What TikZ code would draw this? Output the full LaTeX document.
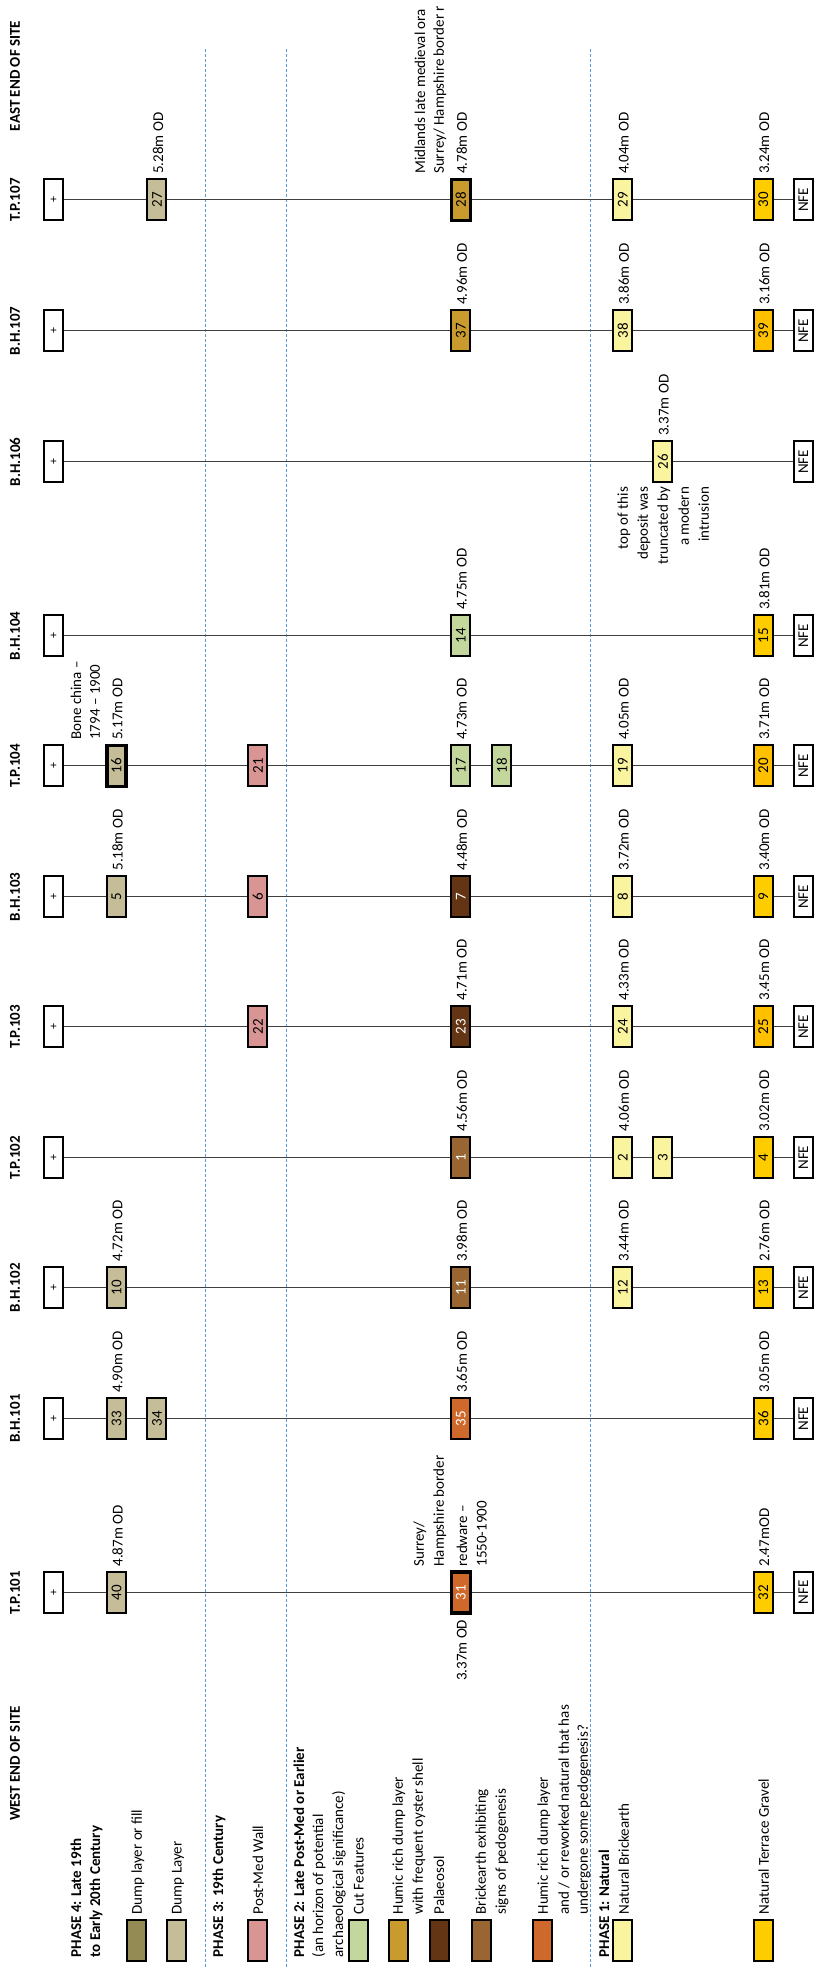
\documentclass[tikz,border=0pt]{standalone}
\usepackage{fontspec}
\setmainfont{Carlito}
\usetikzlibrary{backgrounds}
\definecolor{cdumpA}{HTML}{948A54}
\definecolor{cdumpB}{HTML}{C4BD97}
\definecolor{cwall}{HTML}{D99594}
\definecolor{ccut}{HTML}{C3D69B}
\definecolor{coyster}{HTML}{C99A2E}
\definecolor{cpalaeo}{HTML}{633515}
\definecolor{cpedo}{HTML}{996633}
\definecolor{creworked}{HTML}{CF692B}
\definecolor{cbrick}{HTML}{FBF49E}
\definecolor{cgravel}{HTML}{FFCC00}
\definecolor{cgravelB}{HTML}{FFC000}
\definecolor{cdash}{HTML}{5B9BD5}
\definecolor{cline}{HTML}{404040}
\newcommand\fsz{\fontsize{15}{18}\selectfont}
\tikzset{
  layer/.style={draw=black, line width=2pt, minimum width=19pt, minimum height=41pt, inner sep=0pt, font=\fsz},
  thicklayer/.style={line width=3.5pt},
  endbox/.style={layer, fill=white},
  lbl/.style={rotate=90, anchor=west, inner sep=0pt, font=\fsz},
  lblend/.style={rotate=90, anchor=east, inner sep=0pt, font=\fsz},
  boldlbl/.style={rotate=90, anchor=west, inner sep=0pt, font=\fsz\bfseries},
  colname/.style={rotate=90, inner sep=0pt, font=\fsz\bfseries},
  hole/.style={draw=cline, line width=1pt},
  phaseline/.style={draw=cdash, line width=1pt, dash pattern=on 3pt off 2pt},
}
\newcommand\Bx[5][]{\node[layer,fill=#4,#1] (#2) at (#3) {\rotatebox{90}{#5}};}
\newcommand\Od[2]{\node[lbl] at (#1) {#2};}
\newcommand\Col[3]{%
  \node[colname] (name#1) at (15,#2) {#3};
  \node[endbox] (plus#1) at (54,#2) {\rotatebox{90}{\fontsize{12}{12}\selectfont +}};
  \node[endbox] (nfe#1) at (803.5,#2) {\rotatebox{90}{NFE}};
  \begin{pgfonlayer}{background}\draw[hole] (plus#1) -- (nfe#1);\end{pgfonlayer}}
\begin{document}
\begin{tikzpicture}[x=1pt,y=-1pt]
\begin{pgfonlayer}{background}
\fill[white] (0,0) rectangle (814,1968);
\draw[phaseline] (206,49) -- (206,1968);
\draw[phaseline] (287,49) -- (287,1968);
\draw[phaseline] (591,49) -- (591,1968);
\end{pgfonlayer}
\useasboundingbox (0,0) rectangle (814,1968);

% titles
\node[colname] (east) at (15,76) {EAST END OF SITE};
\node[colname] (west) at (15,1764) {WEST END OF SITE};

% T.P.107
\Col{a}{200}{T.P.107}
\Bx{n27}{157,200}{cdumpB}{27}
\Bx[thicklayer]{n28}{461,200}{coyster}{28}
\Bx{n29}{623,200}{cbrick}{29}
\Bx{n30}{763.5,200}{cgravel}{30}
\Od{158,174}{5.28m OD}
\Od{420,174}{Midlands late medieval ora}
\Od{440,174}{Surrey/ Hampshire border r}
\Od{462,174}{4.78m OD}
\Od{624,174}{4.04m OD}
\Od{764.5,174}{3.24m OD}

% B.H.107
\Col{b}{331}{B.H.107}
\Bx{n37}{461,331}{coyster}{37}
\Bx{n38}{623,331}{cbrick}{38}
\Bx{n39}{763.5,331}{cgravelB}{39}
\Od{462,305}{4.96m OD}
\Od{624,305}{3.86m OD}
\Od{764.5,305}{3.16m OD}

% B.H.106
\Col{c}{462}{B.H.106}
\Bx{n26}{663,462}{cbrick}{26}
\Od{664,436}{3.37m OD}
\node[lblend] at (624,487) {top of this};
\node[lblend] at (644,487) {deposit was};
\node[lblend] at (664,487) {truncated by};
\node[lblend] at (684,487) {a modern};
\node[lblend] at (704,487) {intrusion};

% B.H.104
\Col{d}{636}{B.H.104}
\Bx{n14}{461,636}{ccut}{14}
\Bx{n15}{763.5,636}{cgravel}{15}
\Od{462,610}{4.75m OD}
\Od{764.5,610}{3.81m OD}

% T.P.104
\Col{e}{766}{T.P.104}
\Bx[thicklayer]{n16}{116.5,766}{cdumpB}{16}
\Bx{n21}{258,766}{cwall}{21}
\Bx{n17}{461,766}{ccut}{17}
\Bx{n18}{502,766}{ccut}{18}
\Bx{n19}{623,766}{cbrick}{19}
\Bx{n20}{763.5,766}{cgravelB}{20}
\Od{76,740}{Bone china –}
\Od{95,740}{1794 – 1900}
\Od{117.5,740}{5.17m OD}
\Od{462,740}{4.73m OD}
\Od{624,740}{4.05m OD}
\Od{764.5,740}{3.71m OD}

% B.H.103
\Col{f}{897}{B.H.103}
\Bx{n5}{116.5,897}{cdumpB}{5}
\Bx{n6}{258,897}{cwall}{6}
\Bx[text=white]{n7}{461,897}{cpalaeo}{7}
\Bx{n8}{623,897}{cbrick}{8}
\Bx{n9}{763.5,897}{cgravel}{9}
\Od{117.5,871}{5.18m OD}
\Od{462,871}{4.48m OD}
\Od{624,871}{3.72m OD}
\Od{764.5,871}{3.40m OD}

% T.P.103
\Col{g}{1027}{T.P.103}
\Bx{n22}{258,1027}{cwall}{22}
\Bx[text=white]{n23}{461,1027}{cpalaeo}{23}
\Bx{n24}{623,1027}{cbrick}{24}
\Bx{n25}{763.5,1027}{cgravelB}{25}
\Od{462,1001}{4.71m OD}
\Od{624,1001}{4.33m OD}
\Od{764.5,1001}{3.45m OD}

% T.P.102
\Col{h}{1158}{T.P.102}
\Bx[text=white]{n1}{461,1158}{cpedo}{1}
\Bx{n2}{623,1158}{cbrick}{2}
\Bx{n3}{663,1158}{cbrick}{3}
\Bx{n4}{763.5,1158}{cgravel}{4}
\Od{462,1132}{4.56m OD}
\Od{624,1132}{4.06m OD}
\Od{764.5,1132}{3.02m OD}

% B.H.102
\Col{i}{1288}{B.H.102}
\Bx{n10}{116.5,1288}{cdumpB}{10}
\Bx[text=white]{n11}{461,1288}{cpedo}{11}
\Bx{n12}{623,1288}{cbrick}{12}
\Bx{n13}{763.5,1288}{cgravel}{13}
\Od{117.5,1262}{4.72m OD}
\Od{462,1262}{3.98m OD}
\Od{624,1262}{3.44m OD}
\Od{764.5,1262}{2.76m OD}

% B.H.101
\Col{j}{1419}{B.H.101}
\Bx{n33}{116.5,1419}{cdumpB}{33}
\Bx{n34}{157,1419}{cdumpB}{34}
\Bx[text=white]{n35}{461,1419}{creworked}{35}
\Bx{n36}{763.5,1419}{cgravel}{36}
\Od{117.5,1393}{4.90m OD}
\Od{462,1393}{3.65m OD}
\Od{764.5,1393}{3.05m OD}

% T.P.101
\Col{k}{1593}{T.P.101}
\Bx{n40}{116.5,1593}{cdumpB}{40}
\Bx[thicklayer,text=white]{n31}{461,1593}{creworked}{31}
\Bx{n32}{763.5,1593}{cgravel}{32}
\Od{117.5,1567}{4.87m OD}
\Od{420,1567}{Surrey/}
\Od{440,1567}{Hampshire border}
\Od{462,1567}{redware –}
\Od{482,1567}{1550-1900}
\node[lblend] at (462,1620) {3.37m OD};
\Od{764.5,1567}{2.47mOD}

% legend
\node[boldlbl] at (76,1958) {PHASE 4: Late 19th};
\node[boldlbl] at (96,1958) {to Early 20th Century};
\node[layer,fill=cdumpA] (kA) at (137,1941) {};
\Od{138,1915}{Dump layer or fill}
\node[layer,fill=cdumpB] (kB) at (177,1941) {};
\Od{178,1915}{Dump Layer}
\node[boldlbl] at (219,1958) {PHASE 3: 19th Century};
\node[layer,fill=cwall] (kC) at (258,1941) {};
\Od{258,1915}{Post-Med Wall}
\node[boldlbl] at (299,1958) {PHASE 2: Late Post-Med or Earlier};
\Od{319,1958}{(an horizon of potential}
\Od{339,1958}{archaeological significance)}
\node[layer,fill=ccut] (kD) at (358.5,1941) {};
\Od{359,1915}{Cut Features}
\node[layer,fill=coyster] (kE) at (398.5,1941) {};
\Od{399,1915}{Humic rich dump layer}
\Od{419,1915}{with frequent oyster shell}
\node[layer,fill=cpalaeo] (kF) at (439.5,1941) {};
\Od{439,1915}{Palaeosol}
\node[layer,fill=cpedo] (kG) at (481.5,1941) {};
\Od{482,1915}{Brickearth exhibiting}
\Od{502,1915}{signs of pedogenesis}
\node[layer,fill=creworked] (kH) at (542.5,1941) {};
\Od{544,1915}{Humic rich dump layer}
\Od{564,1915}{and / or reworked natural that has}
\Od{584,1915}{undergone some pedogenesis?}
\node[boldlbl] at (604,1958) {PHASE 1: Natural};
\node[layer,fill=cbrick] (kI) at (622.5,1941) {};
\Od{624,1915}{Natural Brickearth}
\node[layer,fill=cgravel] (kJ) at (763.5,1941) {};
\Od{764,1915}{Natural Terrace Gravel}
\end{tikzpicture}
\end{document}
